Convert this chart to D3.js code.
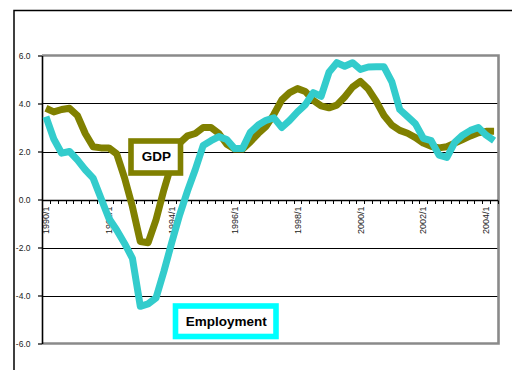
<!DOCTYPE html>
<html>
<head>
<meta charset="utf-8">
<script src="https://cdn.jsdelivr.net/npm/d3@7"></script>
<style>
  html, body { margin: 0; padding: 0; background: #fff; }
  svg { display: block; font-family: "Liberation Sans", Arial, sans-serif; }
</style>
</head>
<body>
<svg id="chart" width="512" height="370"></svg>
<script>
// Quarterly categories, 1990 Q1 – 2004 Q2
const quarters = [
  "1990/1","1990/2","1990/3","1990/4","1991/1","1991/2","1991/3","1991/4",
  "1992/1","1992/2","1992/3","1992/4","1993/1","1993/2","1993/3","1993/4",
  "1994/1","1994/2","1994/3","1994/4","1995/1","1995/2","1995/3","1995/4",
  "1996/1","1996/2","1996/3","1996/4","1997/1","1997/2","1997/3","1997/4",
  "1998/1","1998/2","1998/3","1998/4","1999/1","1999/2","1999/3","1999/4",
  "2000/1","2000/2","2000/3","2000/4","2001/1","2001/2","2001/3","2001/4",
  "2002/1","2002/2","2002/3","2002/4","2003/1","2003/2","2003/3","2003/4",
  "2004/1","2004/2"
];

// Year-over-year growth, percent
const gdp = [
  3.80, 3.65, 3.75, 3.80, 3.50, 2.75, 2.20, 2.15,
  2.15, 1.90, 0.90, -0.30, -1.75, -1.80, -0.85, 0.40,
  1.50, 2.35, 2.65, 2.75, 3.00, 3.00, 2.75, 2.30,
  2.10, 2.10, 2.40, 2.75, 3.05, 3.55, 4.15, 4.45,
  4.62, 4.50, 4.13, 3.90, 3.82, 3.93, 4.27, 4.68,
  4.92, 4.60, 4.10, 3.50, 3.10, 2.88, 2.76, 2.58,
  2.35, 2.22, 2.15, 2.20, 2.35, 2.50, 2.65, 2.78,
  2.84, 2.84
];

const employment = [
  3.45, 2.52, 1.93, 2.00, 1.65, 1.24, 0.89, 0.05,
  -0.78, -1.27, -1.83, -2.45, -4.45, -4.35, -4.10, -3.00,
  -1.80, -0.65, 0.35, 1.25, 2.25, 2.45, 2.62, 2.50,
  2.12, 2.12, 2.80, 3.10, 3.30, 3.40, 3.00, 3.30,
  3.65, 3.95, 4.45, 4.30, 5.30, 5.70, 5.55, 5.70,
  5.42, 5.52, 5.53, 5.53, 4.90, 3.75, 3.45, 3.15,
  2.55, 2.45, 1.85, 1.75, 2.38, 2.68, 2.88, 3.00,
  2.68, 2.45
];

const yTicks = [-6, -4, -2, 0, 2, 4, 6];
const gridValues = [-4, -2, 2, 4];
const xTickLabels = ["1990/1","1992/1","1994/1","1996/1","1998/1","2000/1","2002/1","2004/1"];

const seriesNames = ["GDP", "Employment"];

const svg = d3.select("#chart");

const x = d3.scaleBand().domain(quarters).range([42, 498]).padding(0);
const y = d3.scaleLinear().domain([-6, 6]).range([343.5, 55.5]);
const bw = x.bandwidth();
const cx = q => x(q) + bw / 2;

const fmt = d3.formatLocale({ decimal: ".", thousands: ",", grouping: [3], currency: ["", ""], minus: "-" }).format(".1f");

// Outer chart border (runs off the right and bottom edges)
svg.append("path")
  .attr("d", "M14,370 V10.5 H512")
  .attr("fill", "none")
  .attr("stroke", "#000")
  .attr("stroke-width", 1.5);

// Horizontal gridlines
svg.append("g").selectAll("line")
  .data(gridValues)
  .join("line")
  .attr("x1", 42).attr("x2", 498)
  .attr("y1", d => Math.round(y(d)) + 0.5)
  .attr("y2", d => Math.round(y(d)) + 0.5)
  .attr("stroke", "#000")
  .attr("stroke-width", 1);

// Plot-area frame: top, right, bottom
svg.append("path")
  .attr("d", `M42,${y(6)} H${498.5} V${y(-6)} H42`)
  .attr("fill", "none")
  .attr("stroke", "#8a8a8a")
  .attr("stroke-width", 2.6);

// Y axis
const yAxis = svg.append("g")
  .attr("transform", "translate(42,0)")
  .call(d3.axisLeft(y).tickValues(yTicks).tickSize(4).tickSizeOuter(0).tickPadding(7.5).tickFormat(fmt));
yAxis.select(".domain").attr("stroke", "#000").attr("stroke-width", 1.6);
yAxis.selectAll(".tick line").attr("stroke", "#000").attr("stroke-width", 1.2);
yAxis.selectAll(".tick text")
  .attr("font-family", "'Liberation Sans', Arial, sans-serif")
  .attr("font-size", 8.5)
  .attr("fill", "#222");

// Category (zero) axis with tick marks between quarters
const y0 = Math.round(y(0)) + 0.5;
const xAxis = svg.append("g");
xAxis.append("line")
  .attr("x1", 42).attr("x2", 498)
  .attr("y1", y0).attr("y2", y0)
  .attr("stroke", "#000").attr("stroke-width", 1.3);
const boundaries = quarters.map(q => x(q)).concat([x(quarters[quarters.length - 1]) + bw]);
xAxis.selectAll("line.tick")
  .data(boundaries.slice(1))
  .join("line")
  .attr("class", "tick")
  .attr("x1", d => Math.round(d) + 0.5).attr("x2", d => Math.round(d) + 0.5)
  .attr("y1", y0).attr("y2", y0 + 3.5)
  .attr("stroke", "#000").attr("stroke-width", 1);

xAxis.selectAll("text")
  .data(xTickLabels)
  .join("text")
  .attr("transform", d => `translate(${cx(d)},${y0 + 6}) rotate(-90)`)
  .attr("text-anchor", "end")
  .attr("dy", "0.35em")
  .attr("font-size", 9)
  .attr("fill", "#222")
  .text(d => d);

// Series lines
const line = d3.line()
  .x((d, i) => cx(quarters[i]))
  .y(d => y(d));

svg.append("path")
  .datum(gdp)
  .attr("d", line)
  .attr("fill", "none")
  .attr("stroke", "#808000")
  .attr("stroke-width", 7)
  .attr("stroke-linejoin", "round");

svg.append("path")
  .datum(employment)
  .attr("d", line)
  .attr("fill", "none")
  .attr("stroke", "#33CCCC")
  .attr("stroke-width", 7)
  .attr("stroke-linejoin", "round");

// Series labels in boxed callouts
const labels = [
  { name: seriesNames[0], x: 131, y: 141, w: 49.5, h: 32, color: "#808000", tx: 156.5, ty: 160.5 },
  { name: seriesNames[1], x: 175.5, y: 306, w: 100.5, h: 30.5, color: "#00FFFF", tx: 226.3, ty: 326 }
];
const lg = svg.append("g").selectAll("g").data(labels).join("g");
lg.append("rect")
  .attr("x", d => d.x).attr("y", d => d.y)
  .attr("width", d => d.w).attr("height", d => d.h)
  .attr("fill", "#fff")
  .attr("stroke", d => d.color)
  .attr("stroke-width", 5.6);
lg.append("text")
  .attr("x", d => d.tx).attr("y", d => d.ty)
  .attr("text-anchor", "middle")
  .attr("font-size", 13.5)
  .attr("font-weight", "bold")
  .attr("fill", "#000")
  .text(d => d.name);
</script>
</body>
</html>
